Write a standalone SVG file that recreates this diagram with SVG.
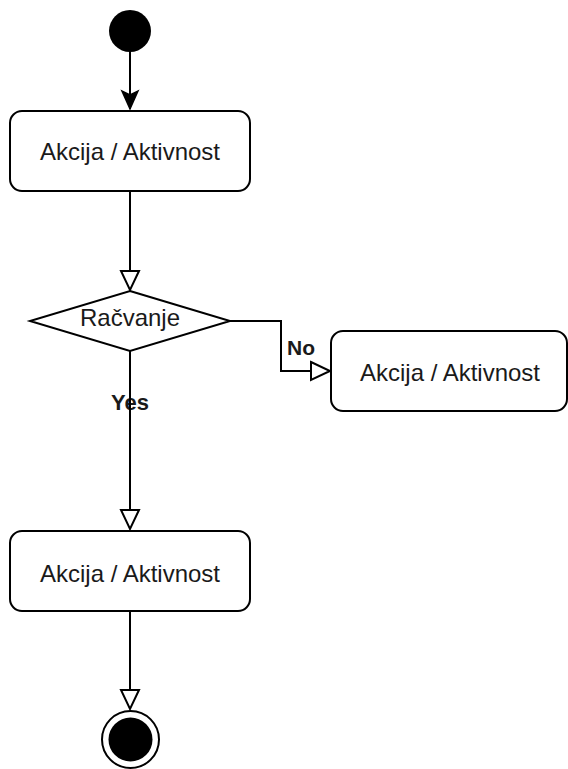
<svg xmlns="http://www.w3.org/2000/svg" width="568" height="769" viewBox="0 0 568 769">
<defs>
<style>
.node{fill:#ffffff;stroke:#000000;stroke-width:2}
.lbl{font-family:"Liberation Sans",Arial,sans-serif;font-size:24px;fill:#1a1a1a;text-anchor:middle}
.elbl{font-family:"Liberation Sans",Arial,sans-serif;font-size:21px;font-weight:bold;fill:#1a1a1a;text-anchor:middle}
.edge{fill:none;stroke:#000000;stroke-width:2}
</style>
<marker id="open" markerWidth="24" markerHeight="24" viewBox="0 0 24 24" refX="21" refY="12" orient="auto" markerUnits="userSpaceOnUse">
<path d="M2,3 L21,12 L2,21 Z" fill="#ffffff" stroke="#000000" stroke-width="2"/>
</marker>
<marker id="filled" markerWidth="24" markerHeight="24" viewBox="0 0 24 24" refX="20" refY="12" orient="auto" markerUnits="userSpaceOnUse">
<path d="M2,4 L20,12 L2,20 L6,12 Z" fill="#000000" stroke="#000000" stroke-width="1.5"/>
</marker>
</defs>
<rect width="568" height="769" fill="#ffffff"/>
<g id="edges">
<text class="elbl" x="301" y="355">No</text>
<text class="elbl" x="130" y="410" style="font-size:22px">Yes</text>
<path class="edge" d="M130,52 L130,109" marker-end="url(#filled)"/>
<path class="edge" d="M130,191 L130,290" marker-end="url(#open)"/>
<path class="edge" d="M230,321 L281,321 L281,371 L330,371" marker-end="url(#open)"/>
<path class="edge" d="M130,351 L130,529" marker-end="url(#open)"/>
<path class="edge" d="M130,611 L130,709" marker-end="url(#open)"/>
</g>
<g id="start">
<circle cx="130" cy="31" r="21" fill="#000000"/>
</g>
<g id="action1">
<rect class="node" x="10" y="111" width="240" height="80" rx="12"/>
<text class="lbl" x="130" y="160">Akcija / Aktivnost</text>
</g>
<g id="decision">
<path class="node" d="M130,291 L230,321 L130,351 L30,321 Z"/>
<text class="lbl" x="130" y="326">Račvanje</text>
</g>
<g id="action2">
<rect class="node" x="331" y="331" width="236" height="80" rx="12"/>
<text class="lbl" x="450" y="381">Akcija / Aktivnost</text>
</g>
<g id="action3">
<rect class="node" x="10" y="531" width="240" height="80" rx="12"/>
<text class="lbl" x="130" y="582">Akcija / Aktivnost</text>
</g>
<g id="end">
<circle cx="130.5" cy="739.5" r="28.5" fill="#ffffff" stroke="#000000" stroke-width="2"/>
<circle cx="130.5" cy="739.5" r="22" fill="#000000"/>
</g>
</svg>
